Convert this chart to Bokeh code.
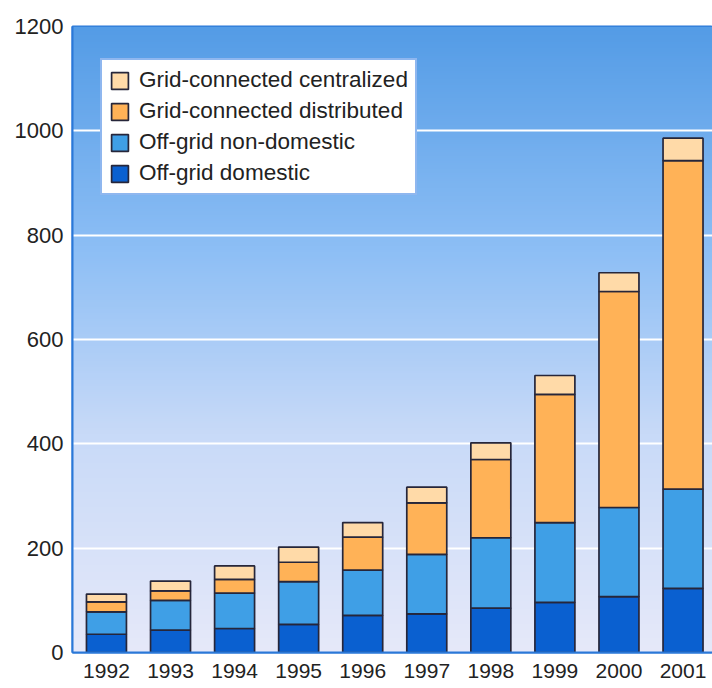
import numpy as np
from bokeh.plotting import figure
from bokeh.models import (ColumnDataSource, Range1d, FixedTicker, Legend, LegendItem)
from bokeh.embed import file_html
from bokeh.resources import INLINE

years = [1992, 1993, 1994, 1995, 1996, 1997, 1998, 1999, 2000, 2001]
off_grid_domestic = [35, 43, 46, 54, 71, 74, 85, 96, 107, 123]
off_grid_non_domestic = [43, 57, 68, 82, 87, 114, 135, 153, 171, 190]
grid_distributed = [19, 18, 26, 37, 63, 99, 150, 246, 414, 630]
grid_centralized = [15, 19, 26, 29, 28, 30, 32, 36, 36, 43]
y_ticks = [0, 200, 400, 600, 800, 1000, 1200]

series = ["dom", "nondom", "dist", "cent"]
labels = ["Off-grid domestic", "Off-grid non-domestic",
          "Grid-connected distributed", "Grid-connected centralized"]
colors = ["#0a60d0", "#3f9fe6", "#ffb257", "#ffdaa8"]

src = ColumnDataSource(dict(year=years, dom=off_grid_domestic,
                            nondom=off_grid_non_domestic,
                            dist=grid_distributed, cent=grid_centralized))

FONT = "Liberation Sans"
x0, x1 = 1991.47, 2001.46
p = figure(width=712, height=688,
           x_range=Range1d(x0, x1), y_range=Range1d(0, 1200),
           output_backend="svg", toolbar_location=None,
           min_border_left=72, min_border_right=0, min_border_top=26,
           min_border_bottom=36)
p.background_fill_color = "white"
p.border_fill_color = "white"
p.outline_line_color = "#2a78d8"
p.outline_line_width = 2

# background gradient (styling only)
stops_pos = np.array([0.0, 0.35, 0.65, 1.0])
stops_col = np.array([[230, 233, 250], [200, 218, 248], [140, 190, 245], [84, 156, 230]])
n = 300
t = np.linspace(0, 1, n)
rgb = np.stack([np.interp(t, stops_pos, stops_col[:, k]) for k in range(3)], axis=1).astype(np.uint32)
img = np.zeros((n, 2), dtype=np.uint32)
vals = (255 << 24) | (rgb[:, 2] << 16) | (rgb[:, 1] << 8) | rgb[:, 0]
img[:, 0] = vals
img[:, 1] = vals
p.image_rgba(image=[img], x=x0, y=0, dw=x1 - x0, dh=1200, level="image")

p.ygrid.grid_line_color = "white"
p.ygrid.grid_line_width = 2
p.ygrid.level = "underlay"
p.xgrid.grid_line_color = None

renderers = p.vbar_stack(series, x="year", width=0.624, source=src,
                         fill_color=colors, line_color="#26263a", line_width=1.7)

items = [LegendItem(label=labels[i], renderers=[renderers[i]]) for i in [3, 2, 1, 0]]
legend = Legend(items=items, location=(28, 457), padding=7, spacing=5,
                glyph_width=21, glyph_height=21, label_standoff=9,
                label_text_font=FONT, label_text_font_size="22.5px",
                label_text_color="#222222", label_height=21,
                border_line_color="#1f6fe0", border_line_width=2,
                background_fill_color="white", background_fill_alpha=1.0,
                margin=0)
p.add_layout(legend, "center")

p.xaxis.ticker = FixedTicker(ticks=years)
p.yaxis.ticker = FixedTicker(ticks=y_ticks)
for ax in (p.xaxis, p.yaxis):
    ax.axis_line_color = "#2a78d8"
    ax.axis_line_width = 2
    ax.major_tick_line_color = None
    ax.minor_tick_line_color = None
    ax.major_tick_out = 0
    ax.major_tick_in = 0
    ax.major_label_text_font = FONT
    ax.major_label_text_color = "#222222"
p.xaxis.major_label_text_font_size = "21px"
p.yaxis.major_label_text_font_size = "22px"
p.xaxis.major_label_standoff = 11
p.yaxis.major_label_standoff = 9

open("out.html", "w").write(file_html(p, INLINE))
